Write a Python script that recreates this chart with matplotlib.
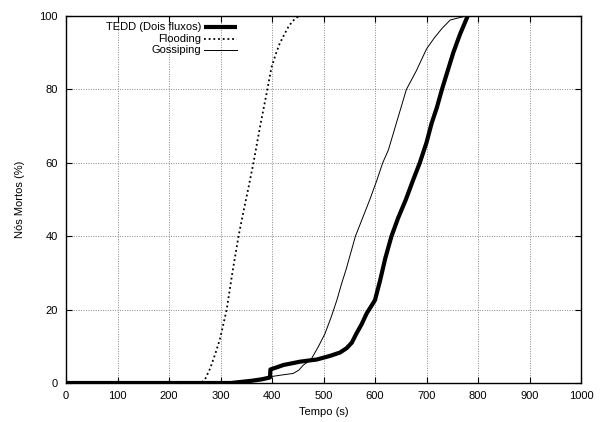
import matplotlib
matplotlib.use("Agg")
import matplotlib.pyplot as plt
from matplotlib.lines import Line2D

plt.rcParams['font.family'] = ['Liberation Sans', 'DejaVu Sans']

# ---- data ----
tedd_t = [0, 320, 340, 360, 380, 396, 397, 410, 422, 440, 454, 470, 487, 500, 513,
          532, 545, 555, 564, 574, 584, 593, 600, 610, 620, 632, 645, 660, 674, 687,
          700, 710, 720, 730, 741, 752, 765, 780]
tedd_v = [0, 0, 0.3, 0.6, 1.0, 1.5, 3.7, 4.3, 4.9, 5.4, 5.8, 6.1, 6.4, 6.9, 7.4,
          8.3, 9.5, 11, 13.5, 16, 19, 21, 22.6, 28, 34, 40, 45, 50, 55.3, 60,
          65.5, 70.8, 75, 80, 85, 90, 95, 100]

flood_t = [0, 262, 270, 280, 290, 299, 312, 323, 335, 345, 354, 364, 377, 391, 399,
           407, 415, 424, 432, 440, 448, 456, 800]
flood_v = [0, 0, 1, 4, 8, 12, 20, 30, 40, 47, 53, 60, 70, 80, 86,
           89.5, 92.5, 95, 97.1, 98.6, 99.6, 100, 100]

goss_t = [0, 300, 340, 370, 396, 420, 441, 452, 461, 470, 477, 490, 503, 515, 526,
          535, 544, 553, 562, 576, 590, 603, 615, 626, 644, 661, 680, 700, 715, 730,
          746, 765, 778]
goss_v = [0, 0, 0.5, 1.0, 1.7, 2.2, 2.6, 3.5, 4.9, 5.8, 6.7, 9.9, 13.5, 18, 22.6,
          27, 31, 35.5, 40, 45, 50, 55, 60, 63.5, 72, 80, 85, 91, 94, 96.6,
          98.9, 99.6, 100]

labels = ["TEDD (Dois fluxos)", "Flooding", "Gossiping"]
xticks = [0, 100, 200, 300, 400, 500, 600, 700, 800, 900, 1000]
yticks = [0, 20, 40, 60, 80, 100]

# ---- figure ----
fig = plt.figure(figsize=(6.04, 4.22), dpi=100)
ax = fig.add_axes([66/604, 1-383/422, 515/604, 367/422])

styles = [
    dict(color='black', lw=3.0, ls='-', solid_capstyle='butt'),
    dict(color='black', lw=1.3, ls=(0, (1, 1.6))),
    dict(color='black', lw=0.7, ls='-'),
]
series = [(tedd_t, tedd_v), (flood_t, flood_v), (goss_t, goss_v)]
for (t, v), st in zip(series, styles):
    ax.plot(t, v, **st, clip_on=True, zorder=3)

ax.set_xlim(0, 1000)
ax.set_ylim(0, 100)
ax.set_xticks(xticks)
ax.set_yticks(yticks)
ax.tick_params(direction='in', top=True, right=True, length=4, width=0.8,
               labelsize=8, colors='black')
ax.tick_params(axis='x', pad=6)
ax.tick_params(axis='y', pad=6)
for s in ax.spines.values():
    s.set_linewidth(1.0)
    s.set_color('black')

# grid (not at borders)
for x in xticks[1:-1]:
    ax.axvline(x, color='#888888', lw=0.7, ls=(0, (1, 1.5)), zorder=1)
for y in yticks[1:-1]:
    ax.axhline(y, color='#888888', lw=0.7, ls=(0, (1, 1.5)), zorder=1)

ax.set_xlabel("Tempo (s)", fontsize=8, labelpad=4)
ax.set_ylabel("Nós Mortos (%)", fontsize=8, labelpad=10)

# gnuplot-style key
ys = [0.970, 0.938, 0.907]
for lab, y, st in zip(labels, ys, styles):
    ax.text(0.263, y, lab, transform=ax.transAxes, ha='right', va='center', fontsize=8)
    ax.add_line(Line2D([0.268, 0.333], [y, y], transform=ax.transAxes, **st))

fig.savefig("out.png", dpi=100)
